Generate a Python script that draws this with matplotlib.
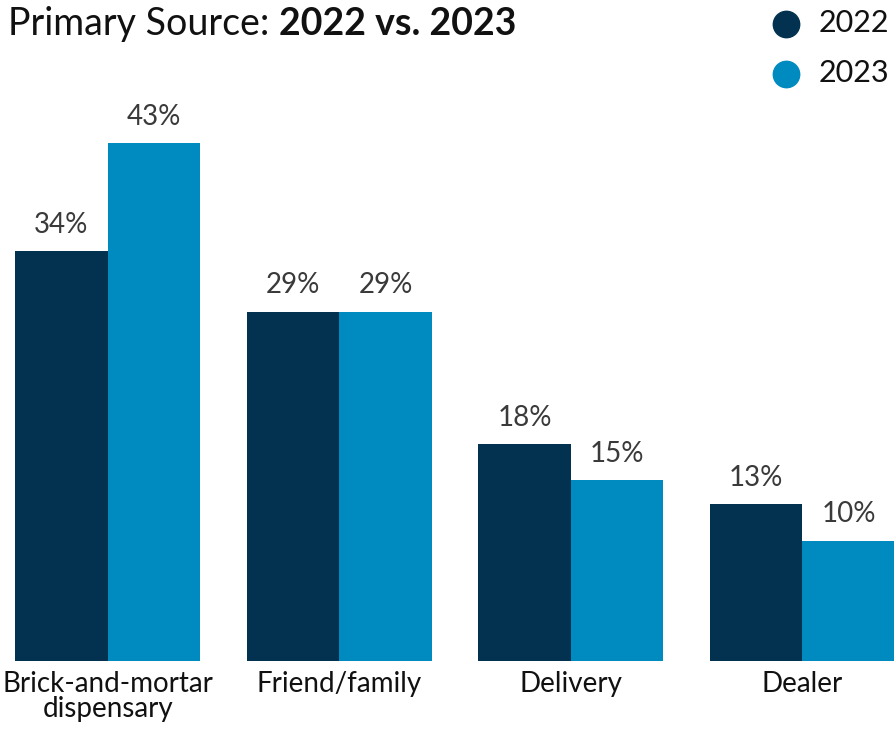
import matplotlib
matplotlib.use("Agg")
import matplotlib.pyplot as plt
import numpy as np
from matplotlib.lines import Line2D

categories = ["Brick-and-mortar\ndispensary", "Friend/family", "Delivery", "Dealer"]
series_names = ["2022", "2023"]
values_2022 = [34, 29, 18, 13]
values_2023 = [43, 29, 15, 10]
colors = ["#02324f", "#008bc0"]

plt.rcParams["font.family"] = ["Lato", "DejaVu Sans"]

W, H = 895, 730
fig = plt.figure(figsize=(W / 100, H / 100), dpi=100)
ax = fig.add_axes([15 / W, (H - 661) / H, 880 / W, (661 - 58.5) / H])

x = np.arange(len(categories))
bw = 0.4
for i, (vals, col) in enumerate(zip([values_2022, values_2023], colors)):
    pos = x - bw / 2 + i * bw
    ax.bar(pos, vals, width=bw, color=col, linewidth=0)
    for p, v in zip(pos, vals):
        ax.annotate(f"{v}%", (p, v), xytext=(0, 9.5), textcoords="offset points",
                    ha="center", va="bottom", fontsize=20, color="#3a3a3a")

ax.set_xlim(-0.4, 3.4)
ax.set_ylim(0, 50)
ax.set_yticks([])
ax.set_xticks(x)
ax.set_xticklabels(categories, fontsize=20, color="#111111", linespacing=0.95)
ax.tick_params(axis="x", length=0, pad=7)
for s in ax.spines.values():
    s.set_visible(False)

# Title
t = fig.text(8 / W, (H - 35) / H, "Primary Source: ", fontsize=27, color="#111111",
             ha="left", va="baseline")
fig.canvas.draw()
bb = t.get_window_extent()
fig.text(bb.x1 / W, (H - 35) / H, "2022 vs. 2023", fontsize=27, fontweight="bold",
         color="#111111", ha="left", va="baseline")

# Legend
for j, (name, col) in enumerate(zip(series_names, colors)):
    yc = 24 + j * 50
    fig.add_artist(Line2D([786 / W], [(H - yc) / H], marker="o", markersize=19,
                          color=col, linestyle="none", transform=fig.transFigure))
    fig.text(819 / W, (H - yc + 1) / H, name, fontsize=22, color="#111111",
             ha="left", va="center")

fig.savefig("out.png", dpi=100)
